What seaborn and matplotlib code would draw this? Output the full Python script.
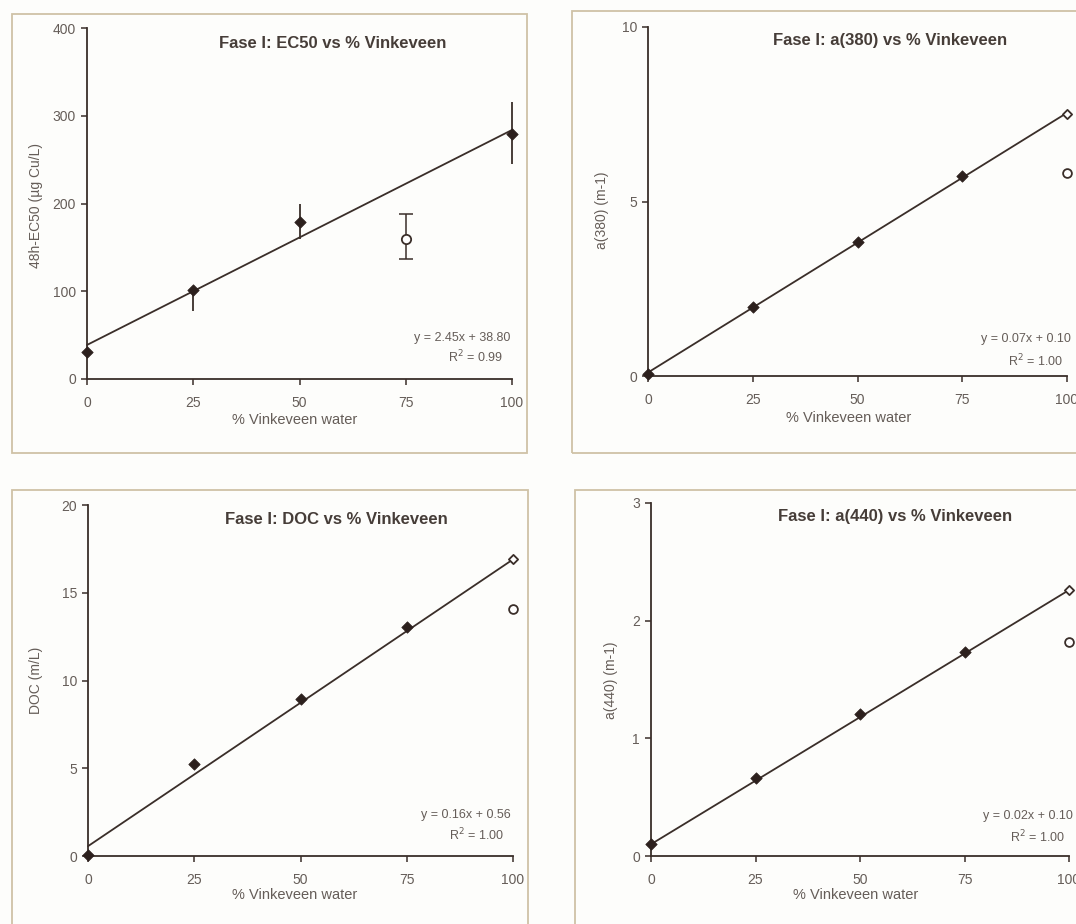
import numpy as np
import pandas as pd
import matplotlib
matplotlib.use("Agg")
import matplotlib.pyplot as plt
from matplotlib.patches import Rectangle
import seaborn as sns

# ---- data -------------------------------------------------------------
pct = [0, 25, 50, 75, 100]

# Panel 1: 48h-EC50 (µg Cu/L)
ec50_x = [0, 25, 50, 100]
ec50_y = [31, 101, 179, 279]
ec50_lo = [31, 77, 160, 245]
ec50_hi = [31, 104, 200, 316]
ec50_open_x = [75]
ec50_open_y = [160]
ec50_open_lo = [137]
ec50_open_hi = [188]
ec50_fit = (2.45, 38.80, 0.99)

# Panel 2: a(380) (m-1)
a380_x = [0, 25, 50, 75]
a380_y = [0.05, 1.98, 3.83, 5.73]
a380_end = [7.52]
a380_open = [5.81]
a380_fit = (0.0744, 0.10, 1.00)

# Panel 3: DOC (m/L)
doc_x = [0, 25, 50, 75]
doc_y = [0.06, 5.26, 8.92, 13.06]
doc_end = [16.9]
doc_open = [14.1]
doc_fit = (0.1634, 0.56, 1.00)

# Panel 4: a(440) (m-1)
a440_x = [0, 25, 50, 75]
a440_y = [0.10, 0.66, 1.21, 1.73]
a440_end = [2.26]
a440_open = [1.82]
a440_fit = (0.0216, 0.10, 1.00)

x_ticks = [0, 25, 50, 75, 100]

# ---- style ------------------------------------------------------------
sns.set_theme(style="white")
plt.rcParams["font.family"] = ["Liberation Sans", "DejaVu Sans"]

W, H = 1076, 924
BG = "#fdfdfb"
INK = "#3a2e29"
TXT = "#463d38"
TICK_TXT = "#655d58"
FRAME = "#cfc2a6"

fig = plt.figure(figsize=(W / 100, H / 100), dpi=100, facecolor=BG)


def fx(x):
    return x / W


def fy(y):
    return 1 - y / H


def axes_px(left, top, right, bottom):
    return fig.add_axes([fx(left), fy(bottom), (right - left) / W, (bottom - top) / H])


# outer chart-area frames
for (l, t, r, b) in [(12, 14, 527, 453), (572, 11, 1100, 453),
                     (12, 490, 528, 960), (575, 490, 1100, 960)]:
    fig.patches.append(Rectangle((fx(l), fy(b)), (r - l) / W, (b - t) / H,
                                 transform=fig.transFigure, fill=False,
                                 edgecolor=FRAME, lw=1.3, zorder=0))


def style_axes(ax, ymax, ystep):
    ax.set_facecolor("none")
    ax.set_xlim(0, 100)
    ax.set_ylim(0, ymax)
    ax.set_xticks(x_ticks)
    yt = np.arange(0, ymax + ystep / 2, ystep)
    ax.set_yticks(yt)
    ax.set_yticklabels([f"{v:g}" for v in yt])
    sns.despine(ax=ax)
    for s in ("left", "bottom"):
        ax.spines[s].set_color(INK)
        ax.spines[s].set_linewidth(1.3)
    ax.tick_params(axis="both", direction="out", length=4, width=1.1,
                   color=INK, labelcolor=TICK_TXT, labelsize=10, left=True, bottom=True)
    ax.tick_params(axis="x", pad=8)
    ax.tick_params(axis="y", pad=4)
    ax.set_xlabel("")
    ax.set_ylabel("")
    ax.grid(False)


def unclip(ax):
    for art in list(ax.collections) + list(ax.lines):
        art.set_clip_on(False)


def trend(ax, fit):
    slope, icpt, _ = fit
    line = pd.DataFrame({"x": [0, 100], "y": [icpt, icpt + slope * 100]})
    sns.lineplot(data=line, x="x", y="y", ax=ax, color=INK, lw=1.3, zorder=2)


def filled(ax, xs, ys):
    sns.scatterplot(x=xs, y=ys, ax=ax, marker="D", s=34, color="#2c201d",
                    edgecolor="#2c201d", linewidth=0.5, zorder=4)


def open_marks(ax, xs, ys, marker, size):
    sns.scatterplot(x=xs, y=ys, ax=ax, marker=marker, s=size, facecolor="white",
                    edgecolor="#3a2e29", linewidth=1.3, zorder=5)


def texts(title, title_xy, ylabel, ylabel_xy, xlabel_xy, fit, eq_xy, r2_xy):
    fig.text(fx(title_xy[0]), fy(title_xy[1]), title, ha="center", va="center",
             fontsize=12, fontweight="bold", color=TXT)
    fig.text(fx(ylabel_xy[0]), fy(ylabel_xy[1]), ylabel, ha="center", va="center",
             rotation=90, fontsize=10, color=TICK_TXT)
    fig.text(fx(xlabel_xy[0]), fy(xlabel_xy[1]), "% Vinkeveen water", ha="center",
             va="center", fontsize=10.5, color=TICK_TXT)
    slope, icpt, r2 = fit
    fig.text(fx(eq_xy[0]), fy(eq_xy[1]), f"y = {slope:.2f}x + {icpt:.2f}",
             ha="center", va="center", fontsize=9, color=TICK_TXT)
    fig.text(fx(r2_xy[0]), fy(r2_xy[1]), f"R$^2$ = {r2:.2f}",
             ha="center", va="center", fontsize=9, color=TICK_TXT)


# ---- panel 1: EC50 ----------------------------------------------------
ax1 = axes_px(87, 28, 512, 379)
trend(ax1, ec50_fit)
ax1.errorbar(ec50_x, ec50_y,
             yerr=[np.subtract(ec50_y, ec50_lo), np.subtract(ec50_hi, ec50_y)],
             fmt="none", ecolor=INK, elinewidth=1.3, capsize=0, zorder=3)
ax1.errorbar(ec50_open_x, ec50_open_y,
             yerr=[np.subtract(ec50_open_y, ec50_open_lo), np.subtract(ec50_open_hi, ec50_open_y)],
             fmt="none", ecolor=INK, elinewidth=1.1, capsize=5, capthick=1.1, zorder=3)
filled(ax1, ec50_x, ec50_y)
open_marks(ax1, ec50_open_x, ec50_open_y, "o", 45)
style_axes(ax1, 400, 100)
unclip(ax1)
texts("Fase I: EC50 vs % Vinkeveen", (333, 43), "48h-EC50 (µg Cu/L)", (36, 205),
      (295, 420), ec50_fit, (462, 338), (476, 357))

# ---- panel 2: a(380) --------------------------------------------------
ax2 = axes_px(648, 27, 1067, 376)
trend(ax2, a380_fit)
filled(ax2, a380_x, a380_y)
open_marks(ax2, [100], a380_end, "D", 22)
open_marks(ax2, [100], a380_open, "o", 40)
style_axes(ax2, 10, 5)
unclip(ax2)
texts("Fase I: a(380) vs % Vinkeveen", (890, 41), "a(380) (m-1)", (602, 210),
      (849, 418), a380_fit, (1026, 339), (1036, 361))

# ---- panel 3: DOC -----------------------------------------------------
ax3 = axes_px(88, 505, 513, 856)
trend(ax3, doc_fit)
filled(ax3, doc_x, doc_y)
open_marks(ax3, [100], doc_end, "D", 22)
open_marks(ax3, [100], doc_open, "o", 40)
style_axes(ax3, 20, 5)
unclip(ax3)
texts("Fase I: DOC vs % Vinkeveen", (336, 519), "DOC (m/L)", (36, 680),
      (295, 895), doc_fit, (466, 815), (477, 835))

# ---- panel 4: a(440) --------------------------------------------------
ax4 = axes_px(651, 503, 1069, 856)
trend(ax4, a440_fit)
filled(ax4, a440_x, a440_y)
open_marks(ax4, [100], a440_end, "D", 22)
open_marks(ax4, [100], a440_open, "o", 40)
style_axes(ax4, 3, 1)
unclip(ax4)
texts("Fase I: a(440) vs % Vinkeveen", (895, 517), "a(440) (m-1)", (611, 680),
      (856, 895), a440_fit, (1028, 816), (1038, 837))

fig.savefig("out.png", dpi=100, facecolor=BG)
